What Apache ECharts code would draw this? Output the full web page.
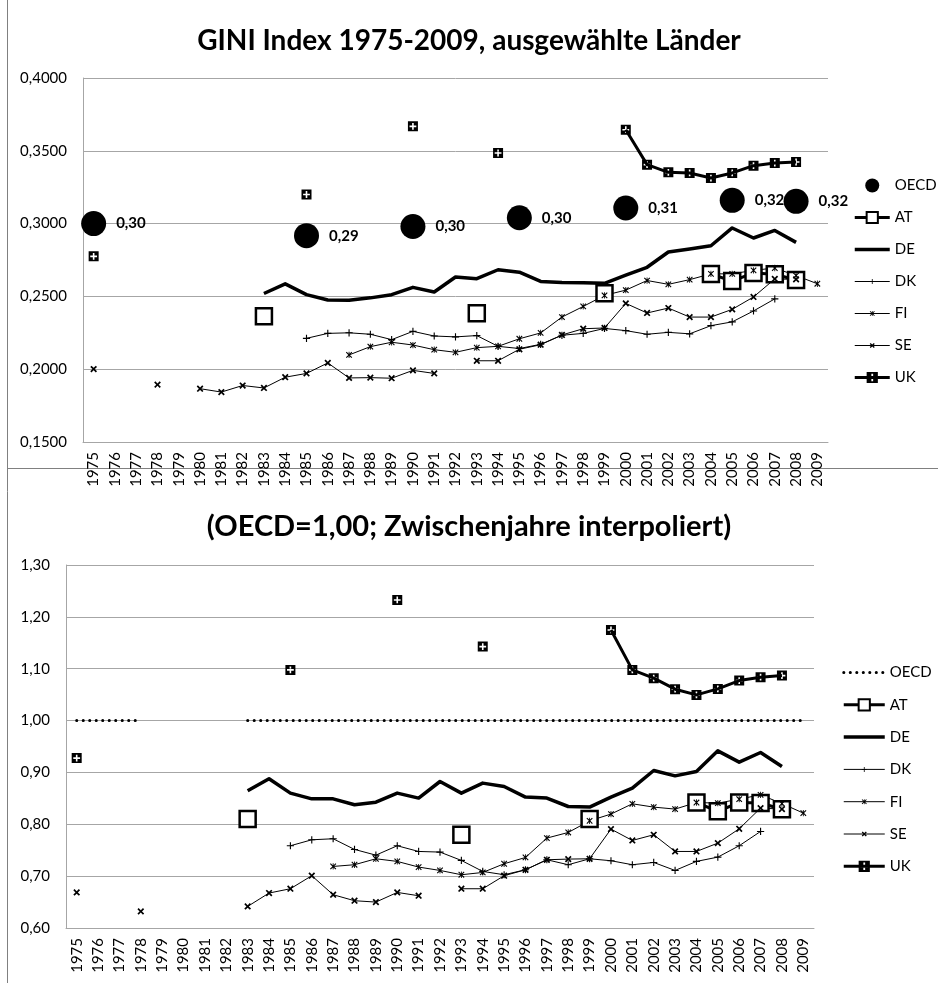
<!DOCTYPE html>
<html><head><meta charset="utf-8">
<script src="https://cdn.jsdelivr.net/npm/echarts@6/dist/echarts.min.js"></script>
<style>html,body{margin:0;padding:0;background:#fff}#c{width:938px;height:983px}</style>
</head><body><div id="c"></div>
<script>
const _ = null;
const years = ['1975','1976','1977','1978','1979','1980','1981','1982','1983','1984','1985','1986','1987','1988','1989','1990','1991','1992','1993','1994','1995','1996','1997','1998','1999','2000','2001','2002','2003','2004','2005','2006','2007','2008','2009'];
const seriesNames = ['OECD','AT','DE','DK','FI','SE','UK'];

// Top panel: GINI index
const oecdTop = [0.300,_,_,_,_,_,_,_,_,_, 0.2917,_,_,_,_, 0.298,_,_,_,_, 0.304,_,_,_,_, 0.3107,_,_,_,_, 0.316,_,_, 0.3153,_];
const atTop = [_,_,_,_,_,_,_,_, 0.2363, _,_,_,_,_,_,_,_,_, 0.2384, _,_,_,_,_, 0.2521, _,_,_,_, 0.2654,0.2605,0.2661,0.2652,0.2613,_];
const deTop = [_,_,_,_,_,_,_,_, 0.2520,0.2586,0.2512,0.2475,0.2474,0.2490,0.2512,0.2562,0.2530,0.2633,0.2622,0.2683,0.2666,0.2603,0.2596,0.2594,0.2590,0.2646,0.2700,0.2805,0.2826,0.2848,0.2970,0.2901,0.2953,0.2871,_];
const dkTop = [_,_,_,_,_,_,_,_,_,_, 0.2212,0.2246,0.2250,0.2240,0.2203,0.2260,0.2228,0.2222,0.2231,0.2157,0.2142,0.2171,0.2233,0.2246,0.2280,0.2265,0.2240,0.2253,0.2243,0.2299,0.2325,0.2400,0.2483,_,_];
const fiTop = [_,_,_,_,_,_,_,_,_,_,_,_, 0.2098,0.2155,0.2185,0.2166,0.2134,0.2116,0.2148,0.2157,0.2209,0.2249,0.2358,0.2431,0.2507,0.2543,0.2609,0.2583,0.2615,0.2655,0.2655,0.2679,0.2695,0.2643,0.2587];
const seTop = [0.2001,_,_, 0.1894,_, 0.1866,0.1843,0.1888,0.1871,0.1945,0.1971,0.2043,0.1940,0.1942,0.1938,0.1992,0.1971,_, 0.2058,0.2058,0.2137,0.2168,0.2235,0.2278,0.2283,0.2452,0.2386,0.2420,0.2358,0.2358,0.2411,0.2496,0.2620,0.2617,_];
const ukTop = [0.2775,_,_,_,_,_,_,_,_,_, 0.3200,_,_,_,_, 0.3668,_,_,_, 0.3485,_,_,_,_,_, 0.3645,0.3405,0.3352,0.3348,0.3313,0.3348,0.3398,0.3416,0.3423,_];

// Bottom panel: relative to OECD (=1,00)
const oecdBot = [1,1,1,1,_,_,_,_, 1,1,1,1,1,1,1,1,1,1,1,1,1,1,1,1,1,1,1,1,1,1,1,1,1,1,1];
const atBot = [_,_,_,_,_,_,_,_, 0.810, _,_,_,_,_,_,_,_,_, 0.780, _,_,_,_,_, 0.810, _,_,_,_, 0.842,0.825,0.842,0.841,0.829,_];
const deBot = [_,_,_,_,_,_,_,_, 0.8646,0.8877,0.8601,0.8491,0.8491,0.8376,0.8427,0.8601,0.8505,0.8825,0.8601,0.8794,0.8728,0.8524,0.8505,0.8343,0.8331,0.8524,0.8697,0.9037,0.8934,0.9017,0.9416,0.9198,0.9384,0.9114,_];
const dkBot = [_,_,_,_,_,_,_,_,_,_, 0.7586,0.7701,0.7721,0.7515,0.7405,0.7586,0.7476,0.7464,0.7303,0.7091,0.7027,0.7123,0.7316,0.7220,0.7335,0.7297,0.7220,0.7264,0.7110,0.7284,0.7367,0.7586,0.7862,_,_];
const fiBot = [_,_,_,_,_,_,_,_,_,_,_,_, 0.7187,0.7220,0.7335,0.7284,0.7175,0.7110,0.7027,0.7071,0.7239,0.7360,0.7734,0.7842,0.8067,0.8197,0.8395,0.8331,0.8293,0.8420,0.8408,0.8485,0.8568,0.8400,0.8216];
const seBot = [0.6686,_,_, 0.632,_,_,_,_, 0.6416,0.6674,0.6757,0.7008,0.6642,0.6526,0.6500,0.6686,0.6622,_, 0.6757,0.6757,0.7008,0.7123,0.7316,0.7329,0.7335,0.7907,0.7688,0.7798,0.7476,0.7476,0.7637,0.7913,0.8312,0.8293,_];
const ukBot = [0.9276,_,_,_,_,_,_,_,_,_, 1.0977,_,_,_,_, 1.2326,_,_,_, 1.1426,_,_,_,_,_, 1.1748,1.0977,1.0817,1.0605,1.0495,1.0611,1.0771,1.0836,1.0867,_];

const FONT = 'Lato';
const pad = 'M0 0H0.01V0.01H0Z M19.99 19.99H20V20H19.99Z ';
const plusSym = 'path://' + pad + 'M9.3 5.5H10.7V9.3H14.5V10.7H10.7V14.5H9.3V10.7H5.5V9.3H9.3Z';
const starSym = 'path://' + pad + 'M5.5 6.6L6.6 5.5L10 8.9L13.4 5.5L14.5 6.6L11.1 10L14.5 13.4L13.4 14.5L10 11.1L6.6 14.5L5.5 13.4L8.9 10Z M9.4 5.5H10.6V14.5H9.4Z';
const xSym = 'path://' + pad + 'M5.5 7.1L7.1 5.5L10 8.4L12.9 5.5L14.5 7.1L11.6 10L14.5 12.9L12.9 14.5L10 11.6L7.1 14.5L5.5 12.9L8.4 10Z';
const ukSym = 'path://M0 0H4.2V4.2H0Z M5.8 0H10V4.2H5.8Z M0 5.8H4.2V10H0Z M5.8 5.8H10V10H5.8Z M0 0H10V1.6H0Z M0 8.4H10V10H0Z M0 0H1.6V10H0Z M8.4 0H10V10H8.4Z';

const fmt = (v, d) => v.toFixed(d).replace('.', ',');
const base = {type:'line', connectNulls:false, showAllSymbol:true, animation:false, silent:true, emphasis:{disabled:true}};

function panel(i, d) {
  const sfx = i ? ' ' : '';
  const ax = {xAxisIndex:i, yAxisIndex:i};
  const out = [];
  if (i === 0) {
    out.push({type:'scatter', name:'OECD', ...ax, data:d[0], symbol:'circle', symbolSize:25, itemStyle:{color:'#000', opacity:1}, animation:false, silent:true,
      emphasis:{disabled:true},
      label:{show:true, position:'right', distance:10, formatter:p => fmt(p.value, 2), fontWeight:'bold', fontSize:15, color:'#000', fontFamily:FONT}});
  } else {
    out.push({...base, name:'OECD'+sfx, ...ax, data:d[0], showSymbol:false, symbol:'circle', itemStyle:{color:'rgba(0,0,0,0)'},
      lineStyle:{color:'#000', width:3, type:[0.1, 6.4], cap:'round'}});
  }
  out.push({...base, name:'AT'+sfx, ...ax, data:d[1], symbol:'rect', symbolSize:16, itemStyle:{color:'#fff', borderColor:'#000', borderWidth:2.5}, lineStyle:{color:'#000', width:3}});
  out.push({...base, name:'DE'+sfx, ...ax, data:d[2], showSymbol:false, symbol:'circle', itemStyle:{color:'rgba(0,0,0,0)'}, lineStyle:{color:'#000', width:3.5, join:'round'}});
  out.push({...base, name:'DK'+sfx, ...ax, data:d[3], symbol:plusSym, symbolSize:16, itemStyle:{color:'#000'}, lineStyle:{color:'#000', width:1}});
  out.push({...base, name:'FI'+sfx, ...ax, data:d[4], symbol:starSym, symbolSize:14, itemStyle:{color:'#000'}, lineStyle:{color:'#000', width:1}});
  out.push({...base, name:'SE'+sfx, ...ax, data:d[5], symbol:xSym, symbolSize:15, itemStyle:{color:'#000'}, lineStyle:{color:'#000', width:1}});
  out.push({...base, name:'UK'+sfx, ...ax, data:d[6], symbol:ukSym, symbolSize:10, itemStyle:{color:'#000'}, lineStyle:{color:'#000', width:3, join:'round'}});
  return out;
}

const gridLine = {lineStyle:{color:'#a6a6a6', width:1}};
function xAx(i) {
  return {type:'category', gridIndex:i, data:years, boundaryGap:true,
    axisLine:{show:true, lineStyle:{color:'#a6a6a6'}}, axisTick:{show:false},
    axisLabel:{rotate:90, interval:0, fontSize:15, margin:10, color:'#000', fontFamily:FONT}};
}
function yAx(i, min, max, step, dec) {
  return {type:'value', gridIndex:i, min:min, max:max, interval:step,
    axisLine:{show:true, lineStyle:{color:'#a6a6a6'}}, axisTick:{show:false},
    splitLine:{show:true, ...gridLine},
    axisLabel:{formatter:v => fmt(v, dec), fontSize:15, margin:16, color:'#000', fontFamily:FONT}};
}

const legendCommon = {orient:'vertical', itemHeight:14, padding:0, selectedMode:false,
  lineStyle:{width:'inherit'}, textStyle:{fontSize:15, color:'#000', fontFamily:FONT}};

const chart = echarts.init(document.getElementById('c'), null, {renderer:'canvas'});
chart.setOption({
  backgroundColor:'#fff',
  animation:false,
  textStyle:{fontFamily:FONT},
  title:[
    {text:'GINI Index 1975-2009, ausgewählte Länder', left:'center', top:27, padding:0,
     textStyle:{fontSize:28, fontWeight:'bold', color:'#000', fontFamily:FONT}},
    {text:'(OECD=1,00; Zwischenjahre interpoliert)', left:'center', top:512, padding:0,
     textStyle:{fontSize:29, fontWeight:'bold', color:'#000', fontFamily:FONT}}
  ],
  legend:[
    {...legendCommon, data:seriesNames, left:853, top:178, itemWidth:35, itemGap:17},
    {...legendCommon, data:seriesNames.map(n => n + ' '), left:842, top:665, itemWidth:41, itemGap:17.3,
     formatter:n => n.trim()}
  ],
  grid:[
    {left:83, right:110, top:78, bottom:541},
    {left:66, right:124, top:565, bottom:55}
  ],
  xAxis:[xAx(0), xAx(1)],
  yAxis:[yAx(0, 0.15, 0.40, 0.05, 4), yAx(1, 0.6, 1.3, 0.1, 2)],
  series:[
    ...panel(0, [oecdTop, atTop, deTop, dkTop, fiTop, seTop, ukTop]),
    ...panel(1, [oecdBot, atBot, deBot, dkBot, fiBot, seBot, ukBot])
  ],
  graphic:[
    {type:'line', shape:{x1:7.5, y1:0, x2:7.5, y2:983}, style:{stroke:'#808080', lineWidth:1}, silent:true},
    {type:'line', shape:{x1:7, y1:468.5, x2:938, y2:468.5}, style:{stroke:'#808080', lineWidth:1}, silent:true}
  ]
});
</script></body></html>
